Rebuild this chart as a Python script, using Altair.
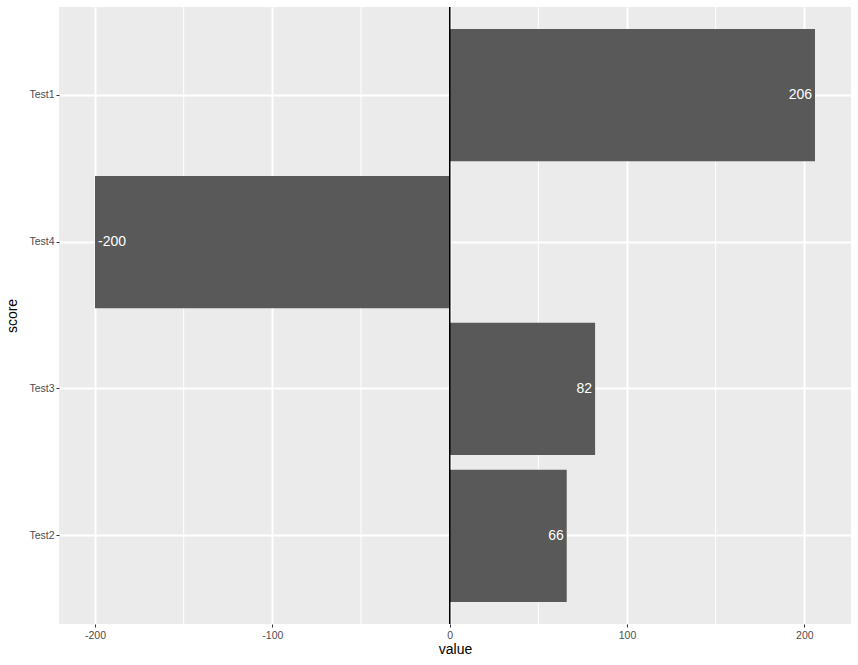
import altair as alt
import pandas as pd

scores = ["Test1", "Test4", "Test3", "Test2"]
values = [206, -200, 82, 66]
major_ticks = [-200, -100, 0, 100, 200]
minor_ticks = [-150, -50, 50, 150]

df = pd.DataFrame({"score": scores, "value": values})
df["label"] = df["value"].astype(str)
minor_df = pd.DataFrame({"v": minor_ticks})

xscale = alt.Scale(domain=[-220.3, 226.3], nice=False, zero=False)
yscale = alt.Scale(domain=scores, paddingInner=0.1, paddingOuter=0.15)

FONT = "Liberation Sans"

minor = alt.Chart(minor_df).mark_rule(color="white", strokeWidth=1).encode(
    x=alt.X("v:Q", scale=xscale)
)

bars = alt.Chart(df).mark_bar(color="#595959").encode(
    x=alt.X("value:Q", scale=xscale, title="value",
            axis=alt.Axis(values=major_ticks, grid=True, gridColor="white", gridWidth=2,
                          labelExpr="datum.value + ''",
                          tickColor="#333333", tickSize=3, tickWidth=1, domain=False,
                          labelColor="#4D4D4D", labelFontSize=10.5, labelFont=FONT, labelPadding=3,
                          titleFont=FONT, titleFontSize=14, titleFontWeight="normal",
                          titleColor="black", titlePadding=2)),
    y=alt.Y("score:N", scale=yscale, sort=scores, title="score",
            axis=alt.Axis(grid=True, gridColor="white", gridWidth=2, bandPosition=0.5,
                          tickColor="#333333", tickSize=3, tickWidth=1, domain=False,
                          labelColor="#4D4D4D", labelFontSize=10.5, labelFont=FONT, labelPadding=2,
                          titleFont=FONT, titleFontSize=14, titleFontWeight="normal",
                          titleColor="black", titlePadding=9)),
)

pos_text = alt.Chart(df).transform_filter("datum.value >= 0").mark_text(
    align="right", baseline="middle", dx=-3, color="white", fontSize=14, font=FONT
).encode(
    x=alt.X("value:Q", scale=xscale),
    y=alt.Y("score:N", scale=yscale, sort=scores),
    text="label:N",
)

neg_text = alt.Chart(df).transform_filter("datum.value < 0").mark_text(
    align="left", baseline="middle", dx=3, color="white", fontSize=14, font=FONT
).encode(
    x=alt.X("value:Q", scale=xscale),
    y=alt.Y("score:N", scale=yscale, sort=scores),
    text="label:N",
)

zero = alt.Chart(df).mark_rule(color="black", strokeWidth=1).encode(x=alt.datum(0))

chart = alt.layer(minor, bars, zero, pos_text, neg_text).properties(
    width=792, height=617,
    background="white",
    autosize=alt.AutoSizeParams(type="none"),
    padding={"left": 59, "top": 7, "right": 7, "bottom": 41},
).configure_view(fill="#EBEBEB", stroke=None)

chart.save("out.html", embed_options={"renderer": "svg", "actions": False})
